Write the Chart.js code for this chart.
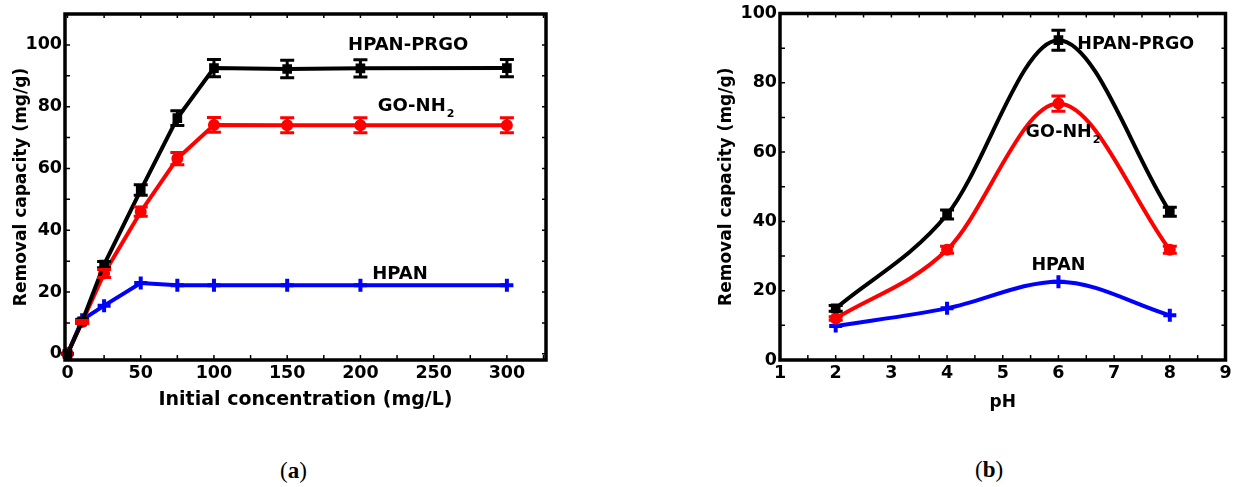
<!DOCTYPE html>
<html>
<head>
<meta charset="utf-8">
<script src="https://cdn.jsdelivr.net/npm/chart.js@4.4.0/dist/chart.umd.min.js"></script>
<style>
  body { margin: 0; background: #fff; }
  #wrap { position: relative; width: 1236px; height: 487px; }
  .box { position: absolute; top: 0; height: 420px; }
  .cap { position: absolute; font-family: "Liberation Serif", serif; font-size: 23px; color: #000; }
</style>
</head>
<body>
<div id="wrap">
  <div class="box" style="left:0;width:560px"><canvas id="chartA"></canvas></div>
  <div class="box" style="left:690px;width:546px"><canvas id="chartB"></canvas></div>
  <div class="cap" style="left:280px;top:458px">(<b>a</b>)</div>
  <div class="cap" style="left:975px;top:457px">(<b>b</b>)</div>
</div>
<script>
// (a) removal capacity vs initial concentration
const concX = [0, 10, 25, 50, 75, 100, 150, 200, 300];
const concPrgo = [0, 10.5, 28.9, 53, 76.3, 92.5, 92.2, 92.4, 92.5];
const concPrgoErr = [0, 0.5, 1, 1.7, 2.4, 2.8, 2.8, 2.8, 2.8];
const concGo = [0, 10.3, 26, 46, 63.2, 74.1, 74, 74, 74];
const concGoErr = [0, 0.5, 1.3, 1.5, 2, 2.4, 2.4, 2.4, 2.4];
const concHpan = [0, 11, 15.6, 22.9, 22.2, 22.2, 22.2, 22.2, 22.2];
const concTicksX = [0, 50, 100, 150, 200, 250, 300];
const concTicksY = [0, 20, 40, 60, 80, 100];

// (b) removal capacity vs pH
const phX = [2, 4, 6, 8];
const phPrgo = [14.9, 42, 92.3, 42.8];
const phPrgoErr = [0.8, 1.3, 2.9, 1.3];
const phGo = [12, 31.8, 74, 31.8];
const phGoErr = [0.5, 1, 2.2, 1];
const phHpan = [9.8, 14.9, 22.6, 12.9];
const phTicksX = [1, 2, 3, 4, 5, 6, 7, 8, 9];
const phTicksY = [0, 20, 40, 60, 80, 100];

const FONT = "'DejaVu Sans', 'Liberation Sans', sans-serif";

function pts(xs, ys) {
  return xs.map((x, i) => ({ x: x, y: ys[i] }));
}

const decor = {
  id: 'decor',
  afterDatasetsDraw(chart, args, opts) {
    const ctx = chart.ctx;
    const xs = chart.scales.x, ys = chart.scales.y;
    ctx.save();
    // error bars
    chart.data.datasets.forEach(ds => {
      if (!ds.errors) return;
      ctx.strokeStyle = ds.borderColor;
      ctx.lineWidth = 3;
      ds.data.forEach((p, i) => {
        const e = ds.errors[i];
        if (!e) return;
        const px = xs.getPixelForValue(p.x);
        const y1 = ys.getPixelForValue(p.y + e);
        const y2 = ys.getPixelForValue(p.y - e);
        ctx.beginPath();
        ctx.moveTo(px, y1); ctx.lineTo(px, y2);
        ctx.moveTo(px - 7, y1); ctx.lineTo(px + 7, y1);
        ctx.moveTo(px - 7, y2); ctx.lineTo(px + 7, y2);
        ctx.stroke();
      });
    });
    // curve labels
    ctx.fillStyle = '#000';
    ctx.textBaseline = 'middle';
    (opts.labels || []).forEach(l => {
      ctx.font = 'bold ' + opts.labelSize + 'px ' + FONT;
      ctx.textAlign = 'left';
      const w = ctx.measureText(l.text).width;
      let px = xs.getPixelForValue(l.x);
      if (l.center) px -= w / 2;
      const py = ys.getPixelForValue(l.y);
      ctx.fillText(l.text, px, py);
      if (l.sub) {
        ctx.font = 'bold 11px ' + FONT;
        ctx.fillText(l.sub, px + w + 1, py + 7);
      }
    });
    ctx.restore();
  },
  afterDraw(chart, args, opts) {
    const ctx = chart.ctx;
    const a = chart.chartArea;
    const xs = chart.scales.x, ys = chart.scales.y;
    ctx.save();
    ctx.strokeStyle = '#000';
    // small inward ticks
    ctx.lineWidth = 1.5;
    ctx.beginPath();
    (opts.minorX || []).forEach(v => {
      const px = xs.getPixelForValue(v);
      ctx.moveTo(px, a.bottom); ctx.lineTo(px, a.bottom - 5);
      ctx.moveTo(px, a.top); ctx.lineTo(px, a.top + 4);
    });
    (opts.minorY || []).forEach(v => {
      const py = ys.getPixelForValue(v);
      ctx.moveTo(a.left, py); ctx.lineTo(a.left + 5, py);
      ctx.moveTo(a.right, py); ctx.lineTo(a.right - 4, py);
    });
    ctx.stroke();
    // frame
    ctx.lineWidth = 3.5;
    ctx.strokeRect(a.left, a.top, a.right - a.left, a.bottom - a.top);
    ctx.restore();
  }
};

function buildChart(id, cfg) {
  const smooth = cfg.smooth ? { cubicInterpolationMode: 'monotone' } : { tension: 0 };
  return new Chart(document.getElementById(id), {
    type: 'line',
    data: {
      datasets: [
        Object.assign({
          label: 'HPAN-PRGO', data: pts(cfg.x, cfg.prgo), errors: cfg.prgoErr,
          borderColor: '#000', backgroundColor: '#000', borderWidth: 4,
          pointStyle: 'rect', pointRadius: 4, clip: false
        }, smooth),
        Object.assign({
          label: 'GO-NH2', data: pts(cfg.x, cfg.go), errors: cfg.goErr,
          borderColor: '#ff0000', backgroundColor: '#ff0000', borderWidth: 4,
          pointStyle: 'circle', pointRadius: 4, clip: false
        }, smooth),
        Object.assign({
          label: 'HPAN', data: pts(cfg.x, cfg.hpan),
          borderColor: '#0000ff', backgroundColor: '#0000ff', borderWidth: 4,
          pointStyle: 'cross', pointRadius: 6.5, pointBorderWidth: 4, clip: false
        }, smooth)
      ]
    },
    options: {
      responsive: true,
      maintainAspectRatio: false,
      animation: false,
      layout: { padding: { top: cfg.top, right: cfg.right, left: 0, bottom: 0 } },
      plugins: {
        legend: { display: false },
        tooltip: { enabled: false },
        decor: { labels: cfg.labels, labelSize: cfg.labelSize, minorX: cfg.minorX, minorY: cfg.minorY }
      },
      scales: {
        x: {
          type: 'linear', min: cfg.xMin, max: cfg.xMax,
          afterBuildTicks: s => { s.ticks = cfg.ticksX.map(v => ({ value: v })); },
          afterFit: s => { s.height = 60; },
          grid: { display: false, drawTicks: false },
          border: { display: false },
          ticks: { color: '#000', padding: 2.5, maxRotation: 0, font: { family: FONT, size: 17.5, weight: 'bold' } },
          title: { display: true, text: cfg.xTitle, color: '#000', padding: { bottom: cfg.xTitlePad, top: 0 },
                   font: { family: FONT, size: cfg.xTitleSize, weight: 'bold' } }
        },
        y: {
          min: cfg.yMin, max: cfg.yMax,
          afterBuildTicks: s => { s.ticks = cfg.ticksY.map(v => ({ value: v })); },
          afterFit: s => { s.width = cfg.left; },
          grid: { display: false, drawTicks: false },
          border: { display: false },
          ticks: { color: '#000', padding: 3, font: { family: FONT, size: 17.5, weight: 'bold' } },
          title: { display: true, text: 'Removal capacity (mg/g)', color: '#000', padding: { top: cfg.yTitlePad, bottom: 0 },
                   font: { family: FONT, size: 17, weight: 'bold' } }
        }
      }
    },
    plugins: [decor]
  });
}

buildChart('chartA', {
  x: concX, prgo: concPrgo, prgoErr: concPrgoErr, go: concGo, goErr: concGoErr, hpan: concHpan,
  smooth: false, xMin: -1.7, xMax: 326.7, yMin: -2, yMax: 110,
  ticksX: concTicksX, ticksY: concTicksY,
  minorX: [0, 25, 50, 75, 100, 125, 150, 175, 200, 225, 250, 275, 300, 325],
  minorY: [0, 10, 20, 30, 40, 50, 60, 70, 80, 90, 100],
  top: 14, right: 14, left: 65,
  xTitle: 'Initial concentration (mg/L)', xTitleSize: 19, xTitlePad: 9, yTitlePad: 11,
  labelSize: 18,
  labels: [
    { text: 'HPAN-PRGO', x: 232.6, y: 100, center: true },
    { text: 'GO-NH', sub: '2', x: 211.8, y: 80 },
    { text: 'HPAN', x: 227, y: 25.6, center: true }
  ]
});

buildChart('chartB', {
  x: phX, prgo: phPrgo, prgoErr: phPrgoErr, go: phGo, goErr: phGoErr, hpan: phHpan,
  smooth: true, xMin: 1, xMax: 9, yMin: 0, yMax: 100,
  ticksX: phTicksX, ticksY: phTicksY,
  minorX: [1, 1.5, 2, 2.5, 3, 3.5, 4, 4.5, 5, 5.5, 6, 6.5, 7, 7.5, 8, 8.5, 9],
  minorY: [0, 10, 20, 30, 40, 50, 60, 70, 80, 90, 100],
  top: 12, right: 9, left: 90,
  xTitle: 'pH', xTitleSize: 17, xTitlePad: 7, yTitlePad: 26,
  labelSize: 17.5,
  labels: [
    { text: 'HPAN-PRGO', x: 6.34, y: 91 },
    { text: 'GO-NH', sub: '2', x: 5.41, y: 65.6 },
    { text: 'HPAN', x: 6.0, y: 27.3, center: true }
  ]
});
</script>
</body>
</html>
